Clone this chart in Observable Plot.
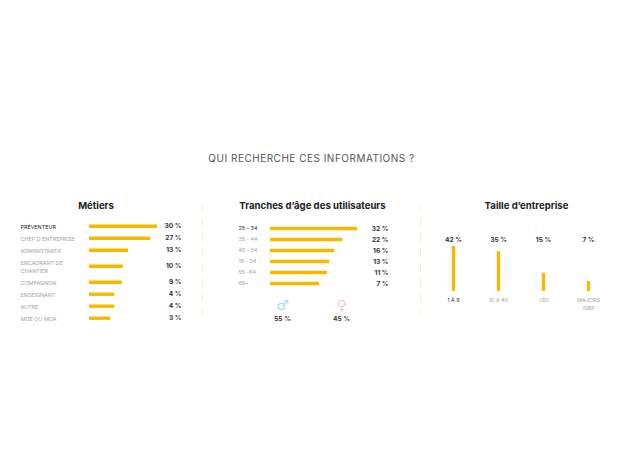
<!DOCTYPE html>
<html><head><meta charset="utf-8">
<script src="https://cdn.jsdelivr.net/npm/d3@7"></script>
<script src="https://cdn.jsdelivr.net/npm/@observablehq/plot@0.6"></script>
<style>
html,body{margin:0;padding:0;background:#fff}
#root{position:relative;width:620px;height:465px;overflow:hidden;font-family:Inter,sans-serif}
#root svg{position:absolute;top:0;background:transparent;overflow:visible}
#headline{position:absolute;left:0;width:623px;top:152px;text-align:center;font-size:10px;letter-spacing:.5px;color:#555}
</style></head><body>
<div id="root"><div id="headline">QUI RECHERCHE CES INFORMATIONS ?</div></div>
<script>
const metiers = ["PRÉVENTEUR","CHEF D'ENTREPRISE","ADMINISTRATIF","ENCADRANT DE\nCHANTIER","COMPAGNON","ENSEIGNANT","AUTRE","MOE OU MOA"];
const metiersLabels = ["30 %","27 %","13 %","10 %","9 %","4 %","4 %","3 %"];
const metiersBars = [30,27,17.2,15,14.5,11.2,11.2,9.4];

const ages = ["25 - 34","35 - 44","45 - 54","18 - 24","55 -64","65+"];
const agesLabels = ["32 %","22 %","16 %","13 %","11 %","7 %"];
const agesBars = [32,26.6,23.6,21.8,20.9,18];

const genres = ["♂","♀"];
const genresLabels = ["55 %","45 %"];
const genresColors = ["#a9d8ee","#f4c6d2"];

const tailles = ["1 À 9","10 À 40",">50","MAJORS\n/GBF"];
const taillesLabels = ["42 %","35 %","15 %","7 %"];
const taillesBars = [42,37,17,9.3];

const gold = "#f6b900";
const dash = "#fbecc2";
const font = "Inter, sans-serif";
const root = document.getElementById("root");
function place(plot, left){ plot.style.left = left+"px"; root.appendChild(plot); }

// Métiers: a two-line label takes a taller row
let acc = 0;
const metiersRows = metiers.map((m,i)=>{
  const h = m.includes("\n") ? 5/3 : 1;
  const c = acc + h/2; acc += h;
  return {m, label:metiersLabels[i], bar:metiersBars[i], c, i};
});
const rowsTotal = acc;

const labelStyle = {fontFamily:font, fontSize:5.4, letterSpacing:0.55};
const valueStyle = {fontFamily:font, fontSize:6.6, fontWeight:700, fill:"#333"};
const titleStyle = {fontFamily:font, fontSize:9.6, fontWeight:700, fill:"#222", lineAnchor:"middle"};

place(Plot.plot({
  width:202, height:465, marginLeft:20, marginRight:21, marginTop:220, marginBottom:141,
  x:{domain:[0,30], range:[89,157], axis:null},
  y:{domain:[0,rowsTotal], range:[219.7,323.7], axis:null},
  style:{background:"transparent"},
  marks:[
    Plot.ruleY(metiersRows,{x1:0,x2:"bar",y:"c",stroke:gold,strokeWidth:3.4}),
    Plot.text(metiersRows,{y:"c",text:"m",frameAnchor:"left",textAnchor:"start",lineHeight:1.5,...labelStyle,
      fill:d=>d.i===0?"#222":"#a3a3a3",fontWeight:d=>d.i===0?700:400}),
    Plot.text(metiersRows,{y:"c",text:"label",frameAnchor:"right",textAnchor:"end",...valueStyle}),
    Plot.text(["Métiers"],{frameAnchor:"top",dy:-15,dx:-5,...titleStyle})
  ]
}),0);

// Tranches d'âge
const ageRows = ages.map((a,i)=>({a,label:agesLabels[i],bar:agesBars[i],i}));
const genreRows = genres.map((g,i)=>({g,label:genresLabels[i],color:genresColors[i]}));
place(Plot.plot({
  width:218, height:465, marginLeft:0, marginRight:0, marginTop:203, marginBottom:147,
  x:{domain:[0,32], range:[68,155], axis:null},
  y:{type:"point", domain:ages, range:[227.7,283.3], padding:0, axis:null},
  style:{background:"transparent"},
  marks:[
    Plot.frame({anchor:"left",stroke:dash,strokeDasharray:"8,7"}),
    Plot.ruleY(ageRows,{x1:0,x2:"bar",y:"a",stroke:gold,strokeWidth:3.4}),
    Plot.text(ageRows,{y:"a",text:"a",frameAnchor:"left",textAnchor:"start",dx:36,...labelStyle,
      fill:d=>d.i===0?"#333":"#a3a3a3",fontWeight:d=>d.i===0?600:400}),
    Plot.text(ageRows,{y:"a",text:"label",frameAnchor:"right",textAnchor:"end",dx:-32,...valueStyle}),
    Plot.text(["Tranches d’âge des utilisateurs"],{frameAnchor:"top",dy:2,dx:1,...titleStyle}),
  ]
}),202);

// Sexe
place(Plot.plot({
  width:218, height:465, marginLeft:0, marginRight:0, marginTop:0, marginBottom:0,
  x:{type:"point", domain:genres, range:[80,139], padding:0, axis:null},
  y:{domain:[0,1], range:[305,318.2], axis:null},
  style:{background:"transparent"},
  marks:[
    Plot.text(genreRows,{x:"g",y:0,text:"g",fontFamily:"DejaVu Sans",fontSize:14,fill:"color"}),
    Plot.text(genreRows,{x:"g",y:1,text:"label",...valueStyle})
  ]
}),202);

// Taille d'entreprise
const tailleRows = tailles.map((t,i)=>({t,label:taillesLabels[i],bar:taillesBars[i],i}));
place(Plot.plot({
  width:200, height:465, marginLeft:0, marginRight:0, marginTop:203, marginBottom:147,
  x:{type:"point", domain:tailles, range:[32.7,168.3], padding:0, axis:null},
  y:{domain:[0,42], range:[291,246], axis:null},
  style:{background:"transparent"},
  marks:[
    Plot.frame({anchor:"left",stroke:dash,strokeDasharray:"8,7"}),
    Plot.ruleX(tailleRows,{x:"t",y1:0,y2:"bar",stroke:gold,strokeWidth:3.4}),
    Plot.text(tailleRows,{x:"t",y:42,dy:-7,text:"label",...valueStyle}),
    Plot.text(tailleRows,{x:"t",y:0,text:"t",lineHeight:1.6,...labelStyle,
      dy:4,lineAnchor:"top",fill:d=>d.i===0?"#333":"#a3a3a3",fontWeight:d=>d.i===0?600:400}),
    Plot.text(["Taille d’entreprise"],{frameAnchor:"top",dy:2,dx:6,...titleStyle})
  ]
}),420);
</script></body></html>
